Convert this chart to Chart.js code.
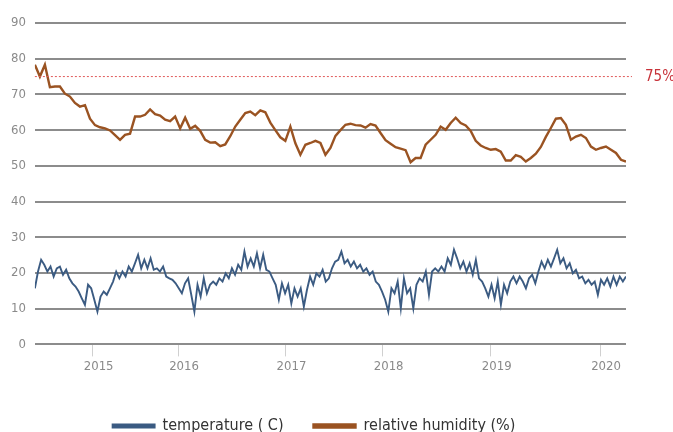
<!DOCTYPE html>
<html>
<head>
<meta charset="utf-8">
<script src="https://cdn.jsdelivr.net/npm/chart.js@4"></script>
<style>
  html, body { margin: 0; padding: 0; background: #fff; }
  #wrap { width: 673px; height: 432px; position: relative; }
</style>
</head>
<body>
<div id="wrap"><canvas id="climateChart"></canvas></div>

<script>
// daily readings, thinned
const temperature = [
  15.7, 20.4, 23.7, 22.3, 20.4, 21.8, 19, 21.3, 21.8, 19.5, 20.9, 18.5, 17.1, 16.2, 14.8, 12.9,
  11.1, 16.7, 15.7, 12.5, 9.2, 13.4, 14.8, 13.9, 15.7, 17.6, 20.4, 18.5, 20.4, 19, 21.8, 20.4,
  22.7, 25.1, 21.3, 23.7, 21.3, 24.1, 20.9, 21.3, 20.4, 21.8, 19, 18.5, 18.1, 17.1, 15.7, 14.3,
  17.1, 18.5, 13.9, 9.2, 16.7, 13.4, 18.5, 14.3, 16.7, 17.6, 16.7, 18.5, 17.6, 19.9, 18.5, 21.3,
  19.5, 22.3, 20.9, 26, 21.8, 24.1, 21.8, 25.5, 21.3, 25.1, 20.9, 20.4, 18.5, 16.7, 12.5, 17.1,
  14.3, 16.7, 11.5, 15.7, 13.4, 15.7, 10.6, 15.3, 19, 16.7, 19.9, 19, 20.9, 17.6, 18.5, 21.3,
  23.2, 23.7, 26, 22.7, 23.7, 21.8, 23.2, 21.3, 22.3, 20.4, 21.3, 19.5, 20.4, 17.6, 16.7, 14.8,
  12.5, 9.2, 15.7, 14.3, 17.6, 10.1, 18.5, 14.3, 15.7, 10.1, 16.7, 18.5, 17.6,
  20.4, 13.9, 20.4, 21.3, 20.4, 21.8, 20.4, 24.1, 22.3, 26.5, 24.1, 21.3, 23.2, 20.4, 22.7, 19.5,
  23.7, 18.5, 17.6, 15.7, 13.4, 16.7, 12.9, 17.6, 11.1, 16.7, 14.3, 17.6, 19, 17.1, 19, 17.6,
  15.7, 18.5, 19.5, 17.1, 20.4, 23.2, 21.3, 23.7, 21.8, 24.1, 26.5, 22.7, 24.1, 21.3, 22.7, 19.9,
  20.9, 18.5, 19, 17.1, 18.1, 16.7, 17.6, 13.9, 18.1, 16.7, 18.5, 16.2, 19, 16.7, 19, 17.6, 19
];

const humidity = [
  78.3, 75.0, 78.3, 72.0, 72.2, 72.2, 70.2, 69.4, 67.6, 66.6, 67.0, 63.2, 61.4, 60.8, 60.5, 59.9,
  58.6, 57.3, 58.7, 59.0, 63.8, 63.8, 64.3, 65.8, 64.5, 64.1, 62.9, 62.5, 63.8, 60.5, 63.5, 60.4,
  61.2, 59.8, 57.3, 56.5, 56.6, 55.5, 56.0, 58.3, 61.0, 62.9, 64.8, 65.2, 64.2, 65.5, 65.0, 62.1,
  60.0, 58.0, 57.0, 61.0, 56.3, 53.1, 55.9, 56.4, 57.0, 56.4, 53.1, 55.0, 58.4, 60.0, 61.5, 61.8,
  61.4, 61.3, 60.7, 61.7, 61.3, 59.2, 57.2, 56.2, 55.2, 54.8, 54.4, 51.0, 52.2, 52.2, 55.9, 57.3,
  58.7, 61.0, 60.1, 62.0, 63.5, 62.0, 61.3, 59.8, 57.0, 55.7, 55.0, 54.5, 54.7, 54.0, 51.5, 51.5,
  53.0, 52.5, 51.2, 52.2, 53.4, 55.3, 58.1, 60.6, 63.2, 63.4, 61.5, 57.3, 58.2, 58.7, 57.8, 55.4,
  54.5, 55.0, 55.4, 54.5, 53.6, 51.7, 51.2
];

// observation index (0..1800) where each year begins
const lastObs = 1800;
const yearStarts = [176, 436, 763, 1059, 1388, 1721];
const yearLabels = ['2015', '2016', '2017', '2018', '2019', '2020'];

const threshold = 75;
const thresholdLabel = '75%';

function spread(values) {
  const step = lastObs / (values.length - 1);
  return values.map((v, i) => ({ x: i * step, y: v }));
}

const narrow = '"Liberation Sans Narrow", "DejaVu Sans Condensed", sans-serif';

const thresholdLine = {
  id: 'thresholdLine',
  afterDatasetsDraw(chart) {
    const { ctx, chartArea, scales } = chart;
    const y = scales.y.getPixelForValue(threshold);
    ctx.save();
    ctx.strokeStyle = '#e05a5a';
    ctx.lineWidth = 1;
    ctx.setLineDash([2, 2]);
    ctx.beginPath();
    ctx.moveTo(chartArea.left, y);
    ctx.lineTo(chartArea.right + 6, y);
    ctx.stroke();
    ctx.setLineDash([]);
    ctx.fillStyle = '#c8333a';
    ctx.font = '15px ' + narrow;
    ctx.textBaseline = 'middle';
    ctx.fillText(thresholdLabel, chartArea.right + 19, y + 1);
    ctx.restore();
  }
};

const tickFont = { family: narrow, size: 13 };

new Chart(document.getElementById('climateChart'), {
  type: 'line',
  data: {
    datasets: [
      {
        label: 'temperature ( C)',
        data: spread(temperature),
        borderColor: '#3b5b82',
        backgroundColor: '#3b5b82',
        borderWidth: 1.9,
        pointRadius: 0,
        tension: 0
      },
      {
        label: 'relative humidity (%)',
        data: spread(humidity),
        borderColor: '#9a5322',
        backgroundColor: '#9a5322',
        borderWidth: 2.4,
        pointRadius: 0,
        tension: 0
      }
    ]
  },
  options: {
    responsive: true,
    maintainAspectRatio: false,
    animation: false,
    layout: { padding: { left: 2, right: 47, top: 23, bottom: -12 } },
    scales: {
      x: {
        type: 'linear',
        min: 0,
        max: lastObs,
        afterBuildTicks: axis => { axis.ticks = yearStarts.map(v => ({ value: v })); },
        afterFit: axis => { axis.height += 12; },
        ticks: {
          color: '#8a8a8a',
          font: tickFont,
          padding: 2,
          labelOffset: 6,
          maxRotation: 0,
          autoSkip: false,
          callback: (v) => yearLabels[yearStarts.indexOf(v)]
        },
        grid: {
          drawOnChartArea: false,
          drawTicks: true,
          tickLength: 12,
          color: '#d0d0d0',
          lineWidth: 1
        },
        border: { display: false }
      },
      y: {
        min: 0,
        max: 90,
        ticks: { stepSize: 10, color: '#8a8a8a', font: tickFont, padding: 9 },
        grid: { color: '#8c8c8c', lineWidth: 2, drawTicks: false },
        border: { display: false }
      }
    },
    plugins: {
      legend: {
        position: 'bottom',
        labels: {
          boxWidth: 42,
          boxHeight: 3,
          color: '#333',
          padding: 30,
          font: { family: narrow, size: 16 }
        }
      },
      tooltip: { enabled: false }
    }
  },
  plugins: [thresholdLine]
});
</script>
</body>
</html>
